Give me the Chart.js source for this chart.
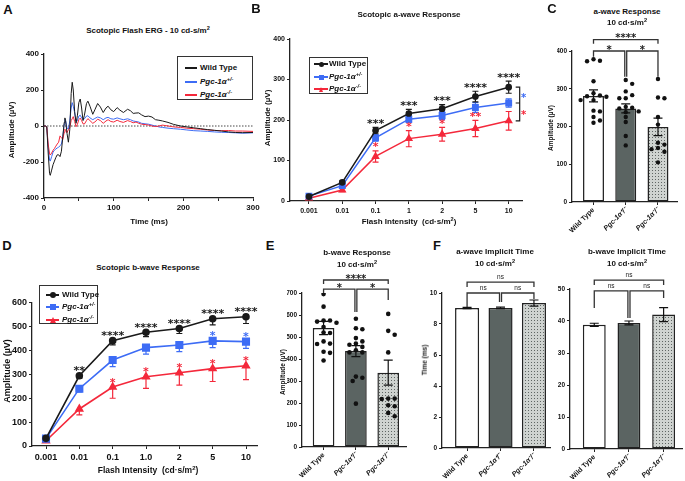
<!DOCTYPE html>
<html lang="en">
<head>
<meta charset="UTF-8">
<title>ERG responses</title>
<script src="https://cdn.jsdelivr.net/npm/chart.js"></script>
<style>
  body { margin: 0; background: #fff; font-family: "Liberation Sans", Arial, sans-serif; color: #111; }
  #fig { position: relative; width: 685px; height: 481px; overflow: hidden; }
  canvas { position: absolute; }
  .t { position: absolute; transform: translate(-50%, -50%); white-space: nowrap; font-weight: bold; line-height: 1; }
  .v { transform: translate(-50%, -50%) rotate(-90deg); }
  .t sup, .ll sup { font-size: 0.7em; line-height: 0; vertical-align: 0.5em; }
  .leg { position: absolute; border: 1.2px solid #333; background: #fff; box-sizing: border-box; }
  .ll { position: absolute; font-weight: bold; font-size: 8px; line-height: 10px; white-space: nowrap; }
</style>
</head>
<body>
<div id="fig">
  <canvas id="cA"></canvas>
  <canvas id="cB"></canvas>
  <canvas id="cC"></canvas>
  <canvas id="cD"></canvas>
  <canvas id="cE"></canvas>
  <canvas id="cF1"></canvas>
  <canvas id="cF2"></canvas>

  <!-- panel letters -->
  <div class="t" style="left:8px;top:9px;font-size:13px">A</div>
  <div class="t" style="left:256px;top:8px;font-size:13px">B</div>
  <div class="t" style="left:552px;top:8px;font-size:13px">C</div>
  <div class="t" style="left:7px;top:245px;font-size:13px">D</div>
  <div class="t" style="left:270px;top:245px;font-size:13px">E</div>
  <div class="t" style="left:437px;top:245px;font-size:13px">F</div>

  <!-- A -->
  <div class="t" style="left:148px;top:31px;font-size:8px">Scotopic Flash ERG - 10 cd-s/m<sup>2</sup></div>
  <div class="t v" style="left:12px;top:130px;font-size:8px">Amplitude (µV)</div>
  <div class="t" style="left:149px;top:222px;font-size:8px">Time (ms)</div>

  <!-- B -->
  <div class="t" style="left:409px;top:15px;font-size:8px">Scotopic a-wave Response</div>
  <div class="t v" style="left:268px;top:118px;font-size:8px">Amplitude (µV)</div>
  <div class="t" style="left:409px;top:222px;font-size:8px">Flash Intensity&nbsp; (cd·s/m<sup>2</sup>)</div>

  <!-- C -->
  <div class="t" style="left:627px;top:12px;font-size:8px">a-wave Response</div>
  <div class="t" style="left:627px;top:23px;font-size:8px">10 cd·s/m<sup>2</sup></div>
  <div class="t v" style="left:551px;top:128px;font-size:6.5px">Amplitude (µV)</div>

  <!-- D -->
  <div class="t" style="left:148px;top:268px;font-size:8px">Scotopic b-wave Response</div>
  <div class="t v" style="left:7px;top:371px;font-size:9px">Amplitude (µV)</div>
  <div class="t" style="left:148px;top:470px;font-size:8.5px">Flash Intensity&nbsp; (cd·s/m<sup>2</sup>)</div>

  <!-- E -->
  <div class="t" style="left:357px;top:253px;font-size:8px">b-wave Response</div>
  <div class="t" style="left:357px;top:265px;font-size:8px">10 cd·s/m<sup>2</sup></div>
  <div class="t v" style="left:283px;top:372px;font-size:6.5px">Amplitude (µV)</div>

  <!-- F -->
  <div class="t" style="left:495px;top:252px;font-size:8px">a-wave Implicit Time</div>
  <div class="t" style="left:495px;top:264px;font-size:8px">10 cd·s/m<sup>2</sup></div>
  <div class="t" style="left:627px;top:252px;font-size:8px">b-wave Implicit Time</div>
  <div class="t" style="left:627px;top:264px;font-size:8px">10 cd·s/m<sup>2</sup></div>
  <div class="t v" style="left:425px;top:360px;font-size:6.5px">Time (ms)</div>
</div>

<script>
// ---------- data ----------
// A: averaged ERG traces (ms, µV)
const ergTime = [0,2,4,6,8,9,11,13,15,17,19,21,23,25,27,29,30,31,33,35,37,39,40.5,42,44,46,48,50,52,54,56,58,61,63,66,70,73,77,81,85,89,92,96,100,105,109,114,120,124,128,132,136,140,145,150,155,160,165,170,178,186,196,205,215,225,235,245,255,265,275,285,300];
const ergWT  = [0,0,-5,-150,-265,-274,-245,-215,-195,-175,-160,-160,-170,-140,-60,20,45,30,-40,-90,-20,180,243,200,80,15,60,130,150,100,30,60,125,138,110,65,90,125,105,75,100,110,90,80,102,88,75,93,85,70,72,73,62,52,55,50,35,32,28,20,9,0,-5,-10,-15,-20,-24,-28,-33,-36,-37,-36];
const ergHet = [0,0,-5,-120,-190,-195,-170,-145,-135,-128,-122,-118,-110,-100,-60,10,37,30,-10,-18,28,100,130,110,74,25,30,55,60,45,35,40,55,57,45,35,42,50,45,35,45,48,40,38,45,40,35,40,35,28,25,22,15,12,10,5,0,-5,-8,-12,-15,-18,-22,-26,-28,-30,-33,-35,-36,-38,-40,-38];
const ergKO  = [0,0,-5,-100,-155,-161,-150,-135,-125,-112,-100,-90,-55,-65,-74,-35,-18,-25,-37,-20,-9,30,40,52,25,-4,10,35,44,30,12,11,30,41,30,15,22,38,30,15,28,35,25,22,32,25,20,30,25,18,22,15,10,8,5,0,-3,0,5,0,-5,-8,-12,-15,-18,-22,-25,-26,-25,-28,-28,-30];

// B: a-wave vs flash intensity
const intensityA = ['0.001','0.01','0.1','1','2','5','10'];
const aWT     = [11,46,174,216,228,258,281];
const aWTerr  = [3,4,8,10,10,13,15];
const aHet    = [12,38,156,202,211,231,242];
const aHetErr = [3,4,8,8,10,12,10];
const aKO     = [7,27,110,154,165,179,198];
const aKOerr  = [2,4,14,20,17,20,23];
const aSigWT  = ['','','***','***','***','****','****'];
const aSigKO  = ['','','*','*','*','**',''];

// C: a-wave at 10 cd·s/m²
const groups = ['Wild Type','Pgc-1α⁺/⁻','Pgc-1α⁻/⁻'];
const cMean = [281,248,199];
const cErr  = [16,12,23];
const cWT   = [378,373,374,320,288,282,280,279,270,270,242,240,225,216,210];
const cHet  = [323,313,293,283,275,275,252,250,248,240,238,225,212,175,150];
const cKO   = [326,275,277,225,205,157,152,143,140,133,105];

// D: b-wave vs flash intensity
const intensityB = ['0.001','0.01','0.1','1.0','2','5','10'];
const bWT     = [32,294,441,476,492,533,541];
const bWTerr  = [4,11,18,18,21,26,28];
const bHet    = [31,240,360,412,423,440,437];
const bHetErr = [4,13,28,27,28,28,28];
const bKO     = [22,155,247,290,307,324,336];
const bKOerr  = [4,25,47,49,52,54,58];
const bSigWT  = ['','**','****','****','****','****','****'];
const bSigHet = ['','','','','','*','*'];
const bSigKO  = ['','','*','*','*','*','*'];

// E: b-wave at 10 cd·s/m²
const eMean = [541,436,338];
const eErr  = [30,25,57];
const eWT   = [695,638,575,575,570,565,545,520,518,480,468,470,433,428,393];
const eHet  = [583,540,535,495,480,470,465,455,440,430,430,320,315,300,197];
const eKO   = [605,528,510,430,220,220,218,190,185,155,140];

// F: implicit times
const fA    = [9.03,9.04,9.35];
const fAerr = [0.04,0.05,0.2];
const fB    = [38.8,39.4,42.0];
const fBerr = [0.5,0.6,2.2];

// ---------- styling ----------
const FF = '"Liberation Sans", Arial, sans-serif';
const BLACK = '#1a1a1a', BLUE = '#3d6cf5', RED = '#f4283b';
Chart.defaults.font.family = FF;
Chart.defaults.color = '#111';
Chart.defaults.animation = false;

const dotPattern = (() => {
  const p = document.createElement('canvas'); p.width = 3; p.height = 3;
  const g = p.getContext('2d');
  g.fillStyle = '#cfd3d0'; g.fillRect(0, 0, 3, 3);
  g.fillStyle = '#5f6563'; g.fillRect(1, 1, 1, 1);
  return g.createPattern(p, 'repeat');
})();
const barFill = ['#ffffff', '#5b6462', dotPattern];

const tickFont = (size, italic) => ({ family: FF, size, weight: 'bold', style: italic ? 'italic' : 'normal' });
const grid = () => ({ display: true, drawOnChartArea: false, drawTicks: true, tickLength: 3, color: '#222', lineWidth: 1, offset: false });
const border = () => ({ display: true, color: '#222', width: 1.3 });

function yAxis(min, max, step, size) {
  return { type: 'linear', min, max, offset: false, grid: grid(), border: border(),
    ticks: { stepSize: step, color: '#111', font: tickFont(size), padding: 2 } };
}
function xIdx(min, max, labels, size, rot) {
  return { type: 'linear', min, max, offset: false, grid: grid(), border: border(),
    afterBuildTicks: s => { s.ticks = labels.map((_, i) => ({ value: i })); },
    ticks: { color: '#111', autoSkip: false, padding: rot ? 1 : 3, minRotation: rot, maxRotation: rot,
      font: ctx => tickFont(size, rot && ctx.index > 0),
      callback: v => labels[v] } };
}

// box = canvas [left, top, width, height]; area = plot [left, top, right, bottom] in page px
function mk(id, box, area, yW, xH, cfg) {
  const c = document.getElementById(id);
  c.style.left = box[0] + 'px'; c.style.top = box[1] + 'px';
  c.width = box[2]; c.height = box[3];
  cfg.options.layout = { padding: {
    left: area[0] - box[0] - yW, top: area[1] - box[1],
    right: box[0] + box[2] - area[2], bottom: box[1] + box[3] - area[3] - xH } };
  cfg.options.scales.x.afterFit = s => { s.height = xH; s.paddingLeft = 0; s.paddingRight = 0; };
  cfg.options.scales.y.afterFit = s => { s.width = yW; s.paddingTop = 0; s.paddingBottom = 0; };
  cfg.options.responsive = false;
  cfg.options.plugins = { legend: { display: false }, tooltip: { enabled: false } };
  return new Chart(c, cfg);
}

// ---------- plugins ----------
function errPlugin(sets, behind, cap) {
  const draw = chart => {
    const { ctx, scales: { x, y } } = chart;
    ctx.save();
    sets.forEach(s => {
      ctx.strokeStyle = s.color; ctx.lineWidth = 1.2;
      s.values.forEach((v, i) => {
        const e = s.errs[i]; if (!e) return;
        const px = x.getPixelForValue(i);
        const yT = y.getPixelForValue(s.down ? v : v + e);
        const yB = y.getPixelForValue(v - e);
        ctx.beginPath();
        ctx.moveTo(px, yT); ctx.lineTo(px, yB);
        if (!s.down) { ctx.moveTo(px - cap, yT); ctx.lineTo(px + cap, yT); }
        ctx.moveTo(px - cap, yB); ctx.lineTo(px + cap, yB);
        ctx.stroke();
      });
    });
    ctx.restore();
  };
  return behind ? { id: 'err', beforeDatasetsDraw: draw } : { id: 'err', afterDatasetsDraw: draw };
}

function starPlugin(sets, gap) {
  return { id: 'stars', afterDatasetsDraw(chart) {
    const { ctx, scales: { x, y } } = chart;
    ctx.save();
    ctx.font = 'bold 11px "DejaVu Sans", sans-serif';
    ctx.textAlign = 'center'; ctx.textBaseline = 'alphabetic';
    sets.forEach(s => s.marks.forEach((m, i) => {
      if (!m) return;
      const top = s.values[i] + (s.up ? s.up[i] : 0);
      ctx.fillStyle = s.color;
      ctx.fillText(m, x.getPixelForValue(i), y.getPixelForValue(top) - gap + 6.5);
    }));
    ctx.restore();
  }};
}

function bracketPlugin(list) {
  return { id: 'brackets', afterDraw(chart) {
    const { ctx, scales: { x, y } } = chart;
    ctx.save();
    ctx.strokeStyle = '#333'; ctx.lineWidth = 1.3; ctx.textAlign = 'center';
    list.forEach(b => {
      const x1 = x.getPixelForValue(b.x1), x2 = x.getPixelForValue(b.x2), yy = y.getPixelForValue(b.y);
      ctx.beginPath();
      ctx.moveTo(x1, y.getPixelForValue(b.d1)); ctx.lineTo(x1, yy);
      ctx.lineTo(x2, yy); ctx.lineTo(x2, y.getPixelForValue(b.d2));
      ctx.stroke();
      ctx.fillStyle = '#222';
      if (b.text === 'ns') {
        ctx.font = '6.5px ' + FF; ctx.textBaseline = 'alphabetic';
        ctx.fillText('ns', (x1 + x2) / 2, yy - 3);
      } else {
        ctx.font = 'bold 10px "DejaVu Sans", sans-serif'; ctx.textBaseline = 'alphabetic';
        ctx.fillText(b.text, (x1 + x2) / 2, yy + 1.5);
      }
    });
    ctx.restore();
  }};
}

function swarm(vals, dx, dy) {
  const placed = [], out = [];
  const order = vals.map((v, i) => i).sort((a, b) => vals[b] - vals[a]);
  const cand = [0];
  for (let k = 1; k <= 5; k++) cand.push(k * 0.5, -k * 0.5);
  order.forEach(i => {
    const v = vals[i];
    let off = 0;
    for (const c of cand) {
      const o = c * dx;
      if (placed.every(p => ((p.o - o) / dx) ** 2 + ((p.v - v) / dy) ** 2 >= 1)) { off = o; break; }
    }
    placed.push({ o: off, v }); out[i] = off;
  });
  return out;
}
function dots(lists, dx, dy) {
  const pts = [];
  lists.forEach((vals, g) => {
    const offs = swarm(vals, dx, dy);
    vals.forEach((v, k) => pts.push({ x: g + offs[k], y: v }));
  });
  return pts;
}

// ---------- A: ERG traces ----------
const trace = vals => vals.map((v, i) => ({ x: ergTime[i], y: v }));
mk('cA', [14, 44, 252, 176], [44, 54, 253, 198], 28, 16, {
  type: 'line',
  data: { datasets: [
    { data: trace(ergWT), borderColor: BLACK, borderWidth: 1, pointRadius: 0 },
    { data: trace(ergKO), borderColor: RED, borderWidth: 1, pointRadius: 0 },
    { data: trace(ergHet), borderColor: BLUE, borderWidth: 1, pointRadius: 0 }
  ]},
  options: {
    scales: {
      x: Object.assign(yAxis(0, 300, 50, 8), { ticks: { stepSize: 50, color: '#111', font: tickFont(8), padding: 2, maxRotation: 0,
        callback: v => (v % 100 === 0 ? v : '') } }),
      y: yAxis(-400, 400, 200, 8)
    }
  },
  plugins: [{ id: 'zero', beforeDatasetsDraw(chart) {
    const { ctx, chartArea: a, scales: { y } } = chart;
    const py = y.getPixelForValue(0);
    ctx.save(); ctx.strokeStyle = '#333'; ctx.lineWidth = 0.9; ctx.setLineDash([1.5, 1.5]);
    ctx.beginPath(); ctx.moveTo(a.left, py); ctx.lineTo(a.right, py); ctx.stroke(); ctx.restore();
  }}]
});

// ---------- B: a-wave intensity response ----------
const idxPts = vals => vals.map((v, i) => ({ x: i, y: v }));
mk('cB', [258, 30, 272, 185], [290, 39, 522, 201], 28, 12, {
  type: 'line',
  data: { datasets: [
    { data: idxPts(aWT), borderColor: BLACK, backgroundColor: BLACK, borderWidth: 1.5, pointStyle: 'circle', pointRadius: 2.6 },
    { data: idxPts(aHet), borderColor: BLUE, backgroundColor: BLUE, borderWidth: 1.5, pointStyle: 'rect', pointRadius: 3.8 },
    { data: idxPts(aKO), borderColor: RED, backgroundColor: RED, borderWidth: 1.5, pointStyle: 'triangle', pointRadius: 3.4 }
  ]},
  options: { scales: { x: xIdx(-0.57, 6.4, intensityA, 7, 0), y: yAxis(0, 400, 100, 7) } },
  plugins: [
    errPlugin([
      { values: aKO, errs: aKOerr, color: RED },
      { values: aHet, errs: aHetErr, color: BLUE },
      { values: aWT, errs: aWTerr, color: BLACK }
    ], true, 3),
    starPlugin([
      { values: aWT, up: aWTerr, marks: aSigWT, color: BLACK },
      { values: aKO, up: aKOerr, marks: aSigKO, color: RED }
    ], 7),
    { id: 'side', afterDatasetsDraw(chart) {
      const { ctx, scales: { x, y } } = chart;
      const last = aWT.length - 1, px = x.getPixelForValue(last);
      const lv = [aWT[last], aHet[last], aKO[last]].map(v => y.getPixelForValue(v));
      ctx.save(); ctx.strokeStyle = BLACK; ctx.lineWidth = 1.2;
      ctx.beginPath();
      ctx.moveTo(px + 7, lv[0]); ctx.lineTo(px + 11, lv[0]); ctx.lineTo(px + 11, lv[2]); ctx.lineTo(px + 7, lv[2]);
      ctx.moveTo(px + 7, lv[1]); ctx.lineTo(px + 11, lv[1]);
      ctx.stroke();
      ctx.font = 'bold 10px "DejaVu Sans", sans-serif'; ctx.textAlign = 'center';
      ctx.fillStyle = BLUE; ctx.fillText('*', px + 15, (lv[0] + lv[1]) / 2 + 6);
      ctx.fillStyle = RED; ctx.fillText('*', px + 15, (lv[1] + lv[2]) / 2 + 6);
      ctx.restore();
    }}
  ]
});

// ---------- bar + dot charts ----------
function barChart(id, box, area, yW, xH, xr, yr, mean, err, pts, tick, brackets, dotR, barPct) {
  return mk(id, box, area, yW, xH, {
    type: 'bar',
    data: { datasets: [
      { type: 'scatter', data: pts, pointRadius: dotR, backgroundColor: '#111', borderWidth: 0, order: 0 },
      { type: 'bar', data: idxPts(mean), backgroundColor: barFill, borderColor: '#222', borderWidth: 1.5,
        borderSkipped: false, categoryPercentage: 1, barPercentage: barPct, order: 1 }
    ]},
    options: { scales: { x: xIdx(xr[0], xr[1], groups, 7, 45), y: yAxis(yr[0], yr[1], yr[2], tick) } },
    plugins: [errPlugin([{ values: mean, errs: err, color: '#111' }], false, 4.5), bracketPlugin(brackets)]
  });
}

barChart('cC', [555, 25, 130, 221], [572, 51, 677, 202], 15, 42, [-0.667, 2.59], [0, 400, 100], cMean, cErr,
  dots([cWT, cHet, cKO], 0.2, 13), 6.5, [
    { x1: 0, x2: 2, y: 430, d1: 419, d2: 419, text: '****' },
    { x1: 0, x2: 0.97, y: 400, d1: 385, d2: 332, text: '*' },
    { x1: 1.03, x2: 2, y: 400, d1: 332, d2: 332, text: '*' }
  ], 2.2, 0.65);

barChart('cE', [285, 268, 125, 213], [302, 293, 408, 447], 15, 32, [-0.667, 2.55], [0, 700, 100], eMean, eErr,
  dots([eWT, eHet, eKO], 0.2, 22), 6.5, [
    { x1: 0, x2: 2, y: 759, d1: 741, d2: 741, text: '****' },
    { x1: 0, x2: 0.97, y: 718, d1: 700, d2: 614, text: '*' },
    { x1: 1.03, x2: 2, y: 718, d1: 614, d2: 668, text: '*' }
  ], 2.3, 0.67);

barChart('cF1', [428, 268, 124, 213], [442, 293, 550, 448], 12, 31, [-0.75, 2.48], [0, 10, 2], fA, fAerr,
  [], 6.5, [
    { x1: 0, x2: 2, y: 10.7, d1: 10.39, d2: 10.39, text: 'ns' },
    { x1: 0, x2: 0.97, y: 10.0, d1: 9.1, d2: 9.42, text: 'ns' },
    { x1: 1.03, x2: 2, y: 10.0, d1: 9.42, d2: 9.61, text: 'ns' }
  ], 0, 0.72);

barChart('cF2', [556, 268, 129, 213], [570, 289, 682, 449], 12, 30, [-0.7, 2.53], [0, 50, 10], fB, fBerr,
  [], 6.5, [
    { x1: 0, x2: 2, y: 52.8, d1: 51.25, d2: 51.25, text: 'ns' },
    { x1: 0, x2: 0.97, y: 49.4, d1: 44.1, d2: 40.9, text: 'ns' },
    { x1: 1.03, x2: 2, y: 49.4, d1: 40.9, d2: 47.2, text: 'ns' }
  ], 0, 0.66);

// ---------- D: b-wave intensity response ----------
mk('cD', [5, 285, 262, 180], [32, 302.7, 257, 446], 26, 14, {
  type: 'line',
  data: { datasets: [
    { data: idxPts(bWT), borderColor: BLACK, backgroundColor: BLACK, borderWidth: 1.6, pointStyle: 'circle', pointRadius: 3 },
    { data: idxPts(bHet), borderColor: BLUE, backgroundColor: BLUE, borderWidth: 1.6, pointStyle: 'rect', pointRadius: 4.6 },
    { data: idxPts(bKO), borderColor: RED, backgroundColor: RED, borderWidth: 1.6, pointStyle: 'triangle', pointRadius: 3.8 }
  ]},
  options: { scales: { x: xIdx(-0.42, 6.33, intensityB, 9, 0), y: yAxis(0, 600, 100, 9) } },
  plugins: [
    errPlugin([
      { values: bKO, errs: bKOerr, color: RED, down: true },
      { values: bHet, errs: bHetErr, color: BLUE, down: true },
      { values: bWT, errs: bWTerr, color: BLACK, down: true }
    ], true, 3),
    starPlugin([
      { values: bWT, marks: bSigWT, color: BLACK },
      { values: bHet, marks: bSigHet, color: BLUE },
      { values: bKO, marks: bSigKO, color: RED }
    ], 8)
  ]
});

// ---------- legends ----------
const italicName = s => '<i>Pgc-1α<sup>' + s + '</sup></i>';
function legend(left, top, w, h, o, rows) {
  const box = document.createElement('div');
  box.className = 'leg';
  Object.assign(box.style, { left: left + 'px', top: top + 'px', width: w + 'px', height: h + 'px' });
  rows.forEach((r, k) => {
    const y = Math.round(o.y0 + k * o.dy);
    const ln = document.createElement('div');
    Object.assign(ln.style, { position: 'absolute', left: o.lx + 'px', top: (y - 1) + 'px', width: o.lw + 'px', height: '1.5px', background: r.color });
    box.appendChild(ln);
    if (r.mark) {
      const m = document.createElement('div');
      const cx = o.lx + o.lw / 2, s = o.ms;
      m.style.position = 'absolute';
      if (r.mark === 'tri') {
        Object.assign(m.style, { width: 0, height: 0, left: (cx - s / 2) + 'px', top: (y - s / 2) + 'px',
          borderLeft: (s / 2) + 'px solid transparent', borderRight: (s / 2) + 'px solid transparent', borderBottom: s + 'px solid ' + r.color });
      } else {
        Object.assign(m.style, { width: s + 'px', height: s + 'px', left: (cx - s / 2) + 'px', top: (y - s / 2) + 'px',
          background: r.color, borderRadius: r.mark === 'circle' ? '50%' : '0' });
      }
      box.appendChild(m);
    }
    const lab = document.createElement('div');
    lab.className = 'll'; lab.innerHTML = r.html;
    lab.style.left = o.tx + 'px'; lab.style.top = (y - 5.5) + 'px';
    box.appendChild(lab);
  });
  document.getElementById('fig').appendChild(box);
}
legend(177, 56, 76, 44, { y0: 11, dy: 13.5, lx: 7, lw: 12, tx: 22 }, [
  { color: BLACK, html: 'Wild Type' }, { color: BLUE, html: italicName('+/-') }, { color: RED, html: italicName('-/-') }]);
legend(309, 57, 59, 37, { y0: 6, dy: 12.5, lx: 4, lw: 14, tx: 19, ms: 5 }, [
  { color: BLACK, mark: 'circle', html: 'Wild Type' }, { color: BLUE, mark: 'rect', html: italicName('+/-') }, { color: RED, mark: 'tri', html: italicName('-/-') }]);
legend(39, 285, 59, 39, { y0: 8.5, dy: 12.5, lx: 6, lw: 13, tx: 22, ms: 6 }, [
  { color: BLACK, mark: 'circle', html: 'Wild Type' }, { color: BLUE, mark: 'rect', html: italicName('+/-') }, { color: RED, mark: 'tri', html: italicName('-/-') }]);
</script>
</body>
</html>
